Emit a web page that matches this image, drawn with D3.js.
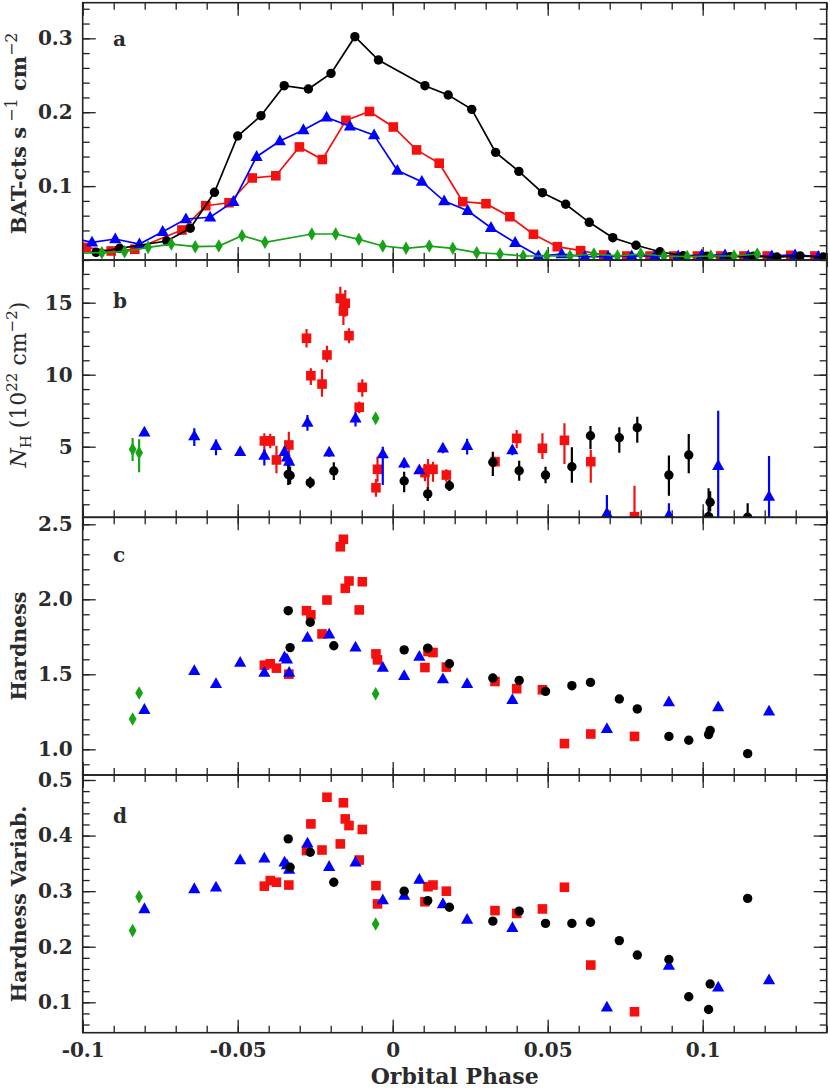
<!DOCTYPE html>
<html><head><meta charset="utf-8">
<script src="https://cdn.jsdelivr.net/npm/d3@7"></script>
<style>body{margin:0;background:#fff}</style>
</head><body>
<script>
// ---------- Panel a: BAT light curves ----------
const phaseA_black = [-0.0957,-0.0881,-0.0729,-0.0653,-0.0575,-0.0500,-0.0425,-0.0350,-0.0272,-0.0199,-0.0122,-0.0046,0.0104,0.0179,0.0255,0.0332,0.0407,0.0483,0.0558,0.0634,0.0710,0.0785,0.0862,0.0937,0.1013,0.1088,0.1163,0.1239,0.1314,0.1389];
const rateA_black  = [0.0104,0.0158,0.0257,0.0429,0.0916,0.1678,0.1953,0.2359,0.2314,0.2526,0.3022,0.2706,0.2359,0.2233,0.2039,0.1457,0.1200,0.0911,0.0754,0.0510,0.0302,0.0199,0.0112,0.0058,0.0050,0.0045,0.0050,0.0040,0.0055,0.0040];
const phaseA_red = [-0.0989,-0.0908,-0.0832,-0.0680,-0.0603,-0.0528,-0.0453,-0.0377,-0.0301,-0.0227,-0.0151,-0.0075,0.0002,0.0077,0.0150,0.0226,0.0301,0.0378,0.0454,0.0531,0.0606,0.0681,0.0755,0.0830,0.0907,0.0983,0.1058,0.1133,0.1208,0.1284,0.1362];
const rateA_red  = [0.0171,0.0122,0.0145,0.0406,0.0735,0.0775,0.1110,0.1140,0.1530,0.1360,0.1890,0.2010,0.1800,0.1490,0.1310,0.0789,0.0762,0.0586,0.0348,0.0180,0.0126,0.0068,0.0054,0.0054,0.0054,0.0054,0.0054,0.0054,0.0054,0.0063,0.0054];
const phaseA_blue = [-0.1046,-0.0970,-0.0895,-0.0817,-0.0742,-0.0667,-0.0589,-0.0514,-0.0439,-0.0364,-0.0288,-0.0213,-0.0138,-0.0060,0.0015,0.0094,0.0166,0.0242,0.0317,0.0395,0.0470,0.0545,0.0620,0.0695,0.0771,0.0846,0.0921,0.0997,0.1072,0.1147,0.1223,0.1298,0.1373];
const rateA_blue  = [0.0310,0.0239,0.0284,0.0216,0.0383,0.0555,0.0578,0.0789,0.1398,0.1610,0.1760,0.1930,0.1810,0.1690,0.1210,0.1060,0.0798,0.0667,0.0437,0.0234,0.0054,0.0080,0.0045,0.0045,0.0054,0.0054,0.0054,0.0068,0.0068,0.0054,0.0054,0.0068,0.0045];
const phaseA_green = [-0.1045,-0.0938,-0.0865,-0.0789,-0.0714,-0.0637,-0.0561,-0.0486,-0.0412,-0.0261,-0.0184,-0.0109,-0.0032,0.0043,0.0118,0.0194,0.0271,0.0346,0.0421,0.0497,0.0572,0.0649,0.0725,0.0800,0.0875,0.0950,0.1026,0.1101,0.1176];
const rateA_green  = [0.0090,0.0099,0.0112,0.0171,0.0216,0.0180,0.0189,0.0329,0.0240,0.0352,0.0352,0.0280,0.0189,0.0158,0.0189,0.0158,0.0099,0.0081,0.0054,0.0054,0.0054,0.0081,0.0054,0.0081,0.0054,0.0045,0.0054,0.0054,0.0081];

// ---------- Panels b-d: spectral results ----------
const phaseG = [-0.0839,-0.0818,-0.0055];
const nhG = [4.82,4.58,6.97], nhG_lo = [4.0,3.22,6.65], nhG_hi = [5.6,5.51,7.3];
const hardG = [1.202,1.375,1.37];
const hvG = [0.229,0.290,0.241];

const phaseB = [-0.0801,-0.0640,-0.0570,-0.0492,-0.0414,-0.0349,-0.0341,-0.0334,-0.0275,-0.0205,-0.0120,-0.0032,0.0037,0.0086,0.0162,0.0240,0.0386,0.0691,0.0891,0.1050,0.1214];
const nhB    = [6.0,5.74,5.07,4.65,4.38,4.65,4.26,3.96,6.67,4.61,6.97,4.49,3.85,3.38,4.89,5.07,4.77,0.37,0.25,3.68,1.53];
const nhB_lo = [5.75,5.05,4.4,4.45,3.7,4.2,3.85,3.5,6.1,4.3,6.4,2.34,3.5,3.1,4.55,4.45,4.4,0.1,0.1,0.05,0.05];
const nhB_hi = [6.3,6.28,5.5,4.85,4.8,5.0,4.7,4.3,7.2,4.9,7.4,5.0,4.2,3.65,5.2,5.55,5.1,1.65,1.07,7.5,4.35];
const hardB  = [1.264,1.523,1.437,1.578,1.512,1.614,1.600,1.512,1.745,1.767,1.680,1.545,1.490,1.618,1.468,1.437,1.330,1.136,1.315,1.282,1.253];
const hvB    = [0.268,0.304,0.307,0.356,0.359,0.352,0.347,0.339,0.386,0.344,0.352,0.284,0.292,0.321,0.277,0.249,0.234,0.091,0.166,0.127,0.140];

const phaseK = [-0.0337,-0.0331,-0.0266,-0.0190,0.0037,0.0113,0.0183,0.0323,0.0408,0.0493,0.0578,0.0638,0.0731,0.0789,0.0891,0.0955,0.1019,0.1024,0.1145];
const nhK    = [3.08,3.0,2.5,3.31,2.62,1.72,2.29,3.92,3.33,3.03,3.61,5.76,5.62,6.32,3.03,4.42,0.14,1.14,0.1];
const nhK_lo = [2.34,2.4,2.11,2.69,1.83,1.23,1.92,2.96,2.64,2.46,2.5,4.82,4.58,5.28,1.6,3.15,0.1,0.5,0.1];
const nhK_hi = [3.73,3.6,2.92,3.92,3.26,2.18,2.69,4.65,4.03,3.61,4.96,6.44,6.35,7.08,4.38,5.88,2.11,1.9,1.07];
const hardK  = [1.924,1.678,1.847,1.690,1.663,1.674,1.570,1.475,1.459,1.386,1.424,1.446,1.335,1.269,1.086,1.060,1.098,1.126,0.971];
const hvK    = [0.394,0.343,0.370,0.316,0.300,0.283,0.271,0.246,0.264,0.242,0.242,0.244,0.211,0.185,0.177,0.110,0.087,0.133,0.287];

const phaseR = [-0.0414,-0.0395,-0.0375,-0.0335,-0.0278,-0.0264,-0.0228,-0.0212,-0.0169,-0.0159,-0.0153,-0.0141,-0.0108,-0.0098,-0.0054,-0.0049,0.0104,0.0114,0.0130,0.0173,0.0330,0.0400,0.0483,0.0554,0.0639,0.0780];
const nhR    = [5.4,5.4,4.08,5.12,12.53,9.93,9.35,11.37,15.3,14.42,14.96,12.71,7.74,9.12,2.15,3.43,3.2,3.43,3.43,3.03,3.96,5.58,4.89,5.44,3.96,0.14];
const nhR_lo = [4.65,4.9,3.15,4.2,11.88,9.28,8.47,10.86,14.61,13.45,14.03,12.18,7.32,8.47,1.53,2.57,2.6,2.11,2.57,2.57,3.6,4.89,4.15,3.8,2.5,0.1];
const nhR_hi = [5.93,5.9,5.07,6.04,13.17,10.44,10.38,12.01,16.11,15.07,15.88,13.22,8.13,9.68,2.76,4.3,3.8,4.15,3.96,3.43,4.3,6.16,5.93,6.63,4.77,2.29];
const hardR  = [1.561,1.570,1.541,1.501,1.924,1.896,1.769,1.995,2.35,2.40,2.073,2.122,1.929,2.117,1.636,1.596,1.545,1.652,1.645,1.548,1.452,1.404,1.397,1.038,1.102,1.086];
const hvR    = [0.309,0.319,0.316,0.311,0.373,0.421,0.374,0.469,0.385,0.459,0.430,0.418,0.356,0.411,0.310,0.277,0.281,0.308,0.311,0.300,0.265,0.260,0.268,0.307,0.167,0.083];

// ---------- tick labels ----------
const xTickValues = [-0.1,-0.05,0,0.05,0.1];
const xTickLabels = ["-0.1","-0.05","0","0.05","0.1"];
const aTickValues = [0.1,0.2,0.3], aTickLabels = ["0.1","0.2","0.3"];
const bTickValues = [5,10,15], bTickLabels = ["5","10","15"];
const cTickValues = [1.0,1.5,2.0,2.5], cTickLabels = ["1.0","1.5","2.0","2.5"];
const dTickValues = [0.1,0.2,0.3,0.4,0.5], dTickLabels = ["0.1","0.2","0.3","0.4","0.5"];

// ---------- drawing ----------
const W = 830, H = 1089;
const COL = {black:"#000000", red:"#f51010", blue:"#0000ff", green:"#17a317"};
const FONT = "'DejaVu Serif', serif";
const TXT = "#2b2b2b";
const svg = d3.select("body").append("svg").attr("width", W).attr("height", H);
const x = d3.scaleLinear().domain([-0.1, 0.14]).range([82.7, 826.7]);
const xl = x.range()[0], xr = x.range()[1];

const panels = [
  {id:"a", top:2.7,   bottom:260,    domain:[0,0.3482],      tv:aTickValues, tl:aTickLabels, minor:0.02},
  {id:"b", top:260,   bottom:517.3,  domain:[0.097,17.965],  tv:bTickValues, tl:bTickLabels, minor:1},
  {id:"c", top:517.3, bottom:775,    domain:[0.8287,2.5465], tv:cTickValues, tl:cTickLabels, minor:0.1},
  {id:"d", top:775,   bottom:1032.7, domain:[0.0453,0.509],  tv:dTickValues, tl:dTickLabels, minor:0.02}
];
panels.forEach(p => { p.y = d3.scaleLinear().domain(p.domain).range([p.bottom, p.top]); });

const defs = svg.append("defs");
panels.forEach(p => {
  defs.append("clipPath").attr("id","clip-"+p.id).append("rect")
    .attr("x", xl).attr("y", p.top).attr("width", xr-xl).attr("height", p.bottom-p.top);
});

const xMinor = d3.range(-10, 15).map(i => i/100);

function styleAxis(g){
  g.select(".domain").remove();
  g.selectAll(".tick line").attr("stroke","#222").attr("stroke-width",1.3);
  g.selectAll(".tick text").attr("font-family",FONT).attr("font-weight","bold")
    .attr("font-size",20).attr("fill",TXT);
}

panels.forEach(p => {
  const g = svg.append("g");
  const yMinor = d3.range(Math.ceil(p.domain[0]/p.minor), Math.floor(p.domain[1]/p.minor)+1).map(i => +(i*p.minor).toFixed(4));
  g.append("g").attr("transform",`translate(${xl},0)`)
    .call(d3.axisLeft(p.y).tickValues(yMinor).tickSize(-7).tickFormat("")).call(styleAxis);
  g.append("g").attr("transform",`translate(${xl},0)`)
    .call(d3.axisLeft(p.y).tickValues(p.tv).tickSize(-13).tickPadding(10)
      .tickFormat((d,i) => p.tl[i])).call(styleAxis);
  g.append("g").attr("transform",`translate(${xr},0)`)
    .call(d3.axisRight(p.y).tickValues(yMinor).tickSize(-7).tickFormat("")).call(styleAxis);
  g.append("g").attr("transform",`translate(${xr},0)`)
    .call(d3.axisRight(p.y).tickValues(p.tv).tickSize(-13).tickFormat("")).call(styleAxis);
  g.append("g").attr("transform",`translate(0,${p.top})`)
    .call(d3.axisTop(x).tickValues(xMinor).tickSize(-7).tickFormat("")).call(styleAxis);
  g.append("g").attr("transform",`translate(0,${p.top})`)
    .call(d3.axisTop(x).tickValues(xTickValues).tickSize(-13).tickFormat("")).call(styleAxis);
  g.append("g").attr("transform",`translate(0,${p.bottom})`)
    .call(d3.axisBottom(x).tickValues(xMinor).tickSize(-7).tickFormat("")).call(styleAxis);
  g.append("g").attr("transform",`translate(0,${p.bottom})`)
    .call(d3.axisBottom(x).tickValues(xTickValues).tickSize(-13).tickPadding(10)
      .tickFormat((d,i) => p.id === "d" ? xTickLabels[i] : "")).call(styleAxis);
  svg.append("text").attr("x",113).attr("y",p.top + ({a:43.5,b:47.5,c:44.5,d:47.5})[p.id])
    .attr("font-family",FONT).attr("font-weight","bold").attr("font-size",20).attr("fill",TXT)
    .text(p.id);
});

function marker(sel, shape, color){
  if (shape === "circle") sel.append("circle").attr("r",4.7).attr("fill",color);
  else if (shape === "square") sel.append("rect").attr("x",-4.8).attr("y",-4.8).attr("width",9.6).attr("height",9.6).attr("fill",color);
  else if (shape === "triangle") sel.append("path").attr("d","M0,-6.6L6.1,4.2L-6.1,4.2Z").attr("fill",color);
  else if (shape === "diamond") sel.append("path").attr("d","M0,-6.8L3.9,0L0,6.8L-3.9,0Z").attr("fill",color);
}
function drawSeries(p, xs, ys, shape, color, opts={}){
  const g = svg.append("g").attr("clip-path",`url(#clip-${p.id})`);
  const pts = xs.map((v,i) => ({x:v, y:ys[i], lo:opts.lo?opts.lo[i]:null, hi:opts.hi?opts.hi[i]:null}));
  if (opts.line){
    g.append("path").datum(pts)
      .attr("d", d3.line().x(d => x(d.x)).y(d => p.y(d.y)))
      .attr("fill","none").attr("stroke",color).attr("stroke-width",1.7);
  }
  if (opts.lo){
    g.selectAll("line.err").data(pts).join("line").attr("class","err")
      .attr("x1",d => x(d.x)).attr("x2",d => x(d.x))
      .attr("y1",d => p.y(d.lo)).attr("y2",d => p.y(d.hi))
      .attr("stroke",color).attr("stroke-width",2.2);
  }
  g.selectAll("g.m").data(pts).join("g").attr("class","m")
    .attr("transform", d => `translate(${x(d.x)},${p.y(d.y)})`)
    .each(function(){ marker(d3.select(this), shape, color); });
}

const [pa,pb,pc,pd] = panels;
drawSeries(pa, phaseA_red, rateA_red, "square", COL.red, {line:true});
drawSeries(pa, phaseA_blue, rateA_blue, "triangle", COL.blue, {line:true});
drawSeries(pa, phaseA_black, rateA_black, "circle", COL.black, {line:true});
drawSeries(pa, phaseA_green, rateA_green, "diamond", COL.green, {line:true});
drawSeries(pb, phaseR, nhR, "square", COL.red, {lo:nhR_lo, hi:nhR_hi});
drawSeries(pb, phaseB, nhB, "triangle", COL.blue, {lo:nhB_lo, hi:nhB_hi});
drawSeries(pb, phaseK, nhK, "circle", COL.black, {lo:nhK_lo, hi:nhK_hi});
drawSeries(pb, phaseG, nhG, "diamond", COL.green, {lo:nhG_lo, hi:nhG_hi});
drawSeries(pc, phaseR, hardR, "square", COL.red);
drawSeries(pc, phaseB, hardB, "triangle", COL.blue);
drawSeries(pc, phaseK, hardK, "circle", COL.black);
drawSeries(pc, phaseG, hardG, "diamond", COL.green);
drawSeries(pd, phaseR, hvR, "square", COL.red);
drawSeries(pd, phaseB, hvB, "triangle", COL.blue);
drawSeries(pd, phaseK, hvK, "circle", COL.black);
drawSeries(pd, phaseG, hvG, "diamond", COL.green);

panels.forEach(p => {
  svg.append("rect").attr("x",xl).attr("y",p.top).attr("width",xr-xl).attr("height",p.bottom-p.top)
    .attr("fill","none").attr("stroke","#222").attr("stroke-width",1.6);
});

function ylabel(cy, size, parts){
  const t = svg.append("text").attr("transform",`translate(26,${cy}) rotate(-90)`)
    .attr("text-anchor","middle").attr("font-family",FONT).attr("font-size",size)
    .attr("font-weight","bold").attr("fill",TXT);
  parts.forEach(pt => {
    const s = t.append("tspan").text(pt.t);
    if (pt.dy) s.attr("dy", pt.dy);
    if (pt.fs) s.attr("font-size", pt.fs);
    if (pt.it) s.attr("font-style","italic");
    if (pt.fw) s.attr("font-weight", pt.fw);
  });
}
ylabel((pa.top+pa.bottom)/2 + 2, 21, [{t:"BAT-cts s"},{t:" −1",dy:-9,fs:16,fw:"normal"},{t:" cm",dy:9},{t:"−2",dy:-9,fs:16,fw:"normal"}]);
ylabel((pb.top+pb.bottom)/2 - 4, 22, [{t:"N",it:true,fw:"normal"},{t:"H",dy:5,fs:15,fw:"normal"},{t:"  (10",dy:-5,fw:"normal"},{t:"22",dy:-9,fs:15,fw:"normal"},{t:" cm",dy:9,fw:"normal"},{t:"−2",dy:-9,fs:15,fw:"normal"},{t:")",dy:9,fw:"normal"}]);
ylabel((pc.top+pc.bottom)/2, 20.5, [{t:"Hardness"}]);
ylabel((pd.top+pd.bottom)/2, 20.5, [{t:"Hardness Variab."}]);

svg.append("text").attr("x",(xl+xr)/2).attr("y",1084).attr("text-anchor","middle")
  .attr("font-family",FONT).attr("font-size",22).attr("font-weight","bold").attr("fill",TXT)
  .text("Orbital Phase");
</script>
</body></html>
